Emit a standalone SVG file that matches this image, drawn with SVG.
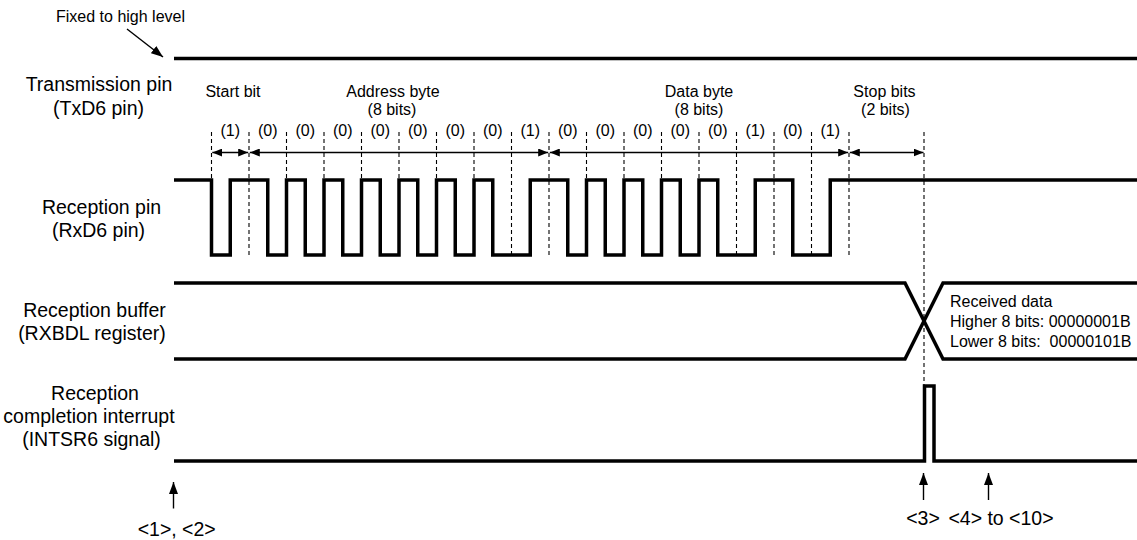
<svg xmlns="http://www.w3.org/2000/svg" width="1137" height="540" viewBox="0 0 1137 540">
<style>
  text { font-family: "Liberation Sans", Arial, Helvetica, sans-serif; fill: #000; }
  .lbl { font-size: 19.5px; text-anchor: middle; }
  .sm { font-size: 16px; text-anchor: middle; }
  .smL { font-size: 16px; text-anchor: start; white-space: pre; }
  .sig { fill: none; stroke: #000; stroke-width: 3.5; stroke-linejoin: miter; stroke-linecap: butt; }
  .dash { fill: none; stroke: #000; stroke-width: 1.1; stroke-dasharray: 4 3; }
  .arr { fill: none; stroke: #000; stroke-width: 1.4; }
</style>
<defs>
  <marker id="ah" viewBox="0 0 10 8" refX="10" refY="4" markerWidth="10" markerHeight="8" markerUnits="userSpaceOnUse" orient="auto-start-reverse">
    <path d="M0,0 L10,4 L0,8 Z" fill="#000"/>
  </marker>
  <marker id="ahBig" viewBox="0 0 12 9" refX="12" refY="4.5" markerWidth="12" markerHeight="9" markerUnits="userSpaceOnUse" orient="auto">
    <path d="M0,0 L12,4.5 L0,9 Z" fill="#000"/>
  </marker>
</defs>

<g id="note-fixed">
  <text class="sm" x="120.5" y="21.7">Fixed to high level</text>
</g>

<g id="txd">
  <text class="lbl" x="99" y="90.7">Transmission pin</text>
  <text class="lbl" x="98.5" y="114.5">(TxD6 pin)</text>
  <path class="sig" d="M174,58.5 H1137"/>
</g>

<g id="frame-labels">
  <text class="sm" x="233" y="96.5">Start bit</text>
  <text class="sm" x="393" y="96.5">Address byte</text>
  <text class="sm" x="392" y="114.5">(8 bits)</text>
  <text class="sm" x="699" y="96.5">Data byte</text>
  <text class="sm" x="699" y="114.5">(8 bits)</text>
  <text class="sm" x="884.5" y="96.5">Stop bits</text>
  <text class="sm" x="885.5" y="114.5">(2 bits)</text>
</g>

<g id="bit-labels">
  <text class="sm" x="230.25" y="136">(1)</text>
  <text class="sm" x="267.75" y="136">(0)</text>
  <text class="sm" x="305.25" y="136">(0)</text>
  <text class="sm" x="342.75" y="136">(0)</text>
  <text class="sm" x="380.25" y="136">(0)</text>
  <text class="sm" x="417.75" y="136">(0)</text>
  <text class="sm" x="455.25" y="136">(0)</text>
  <text class="sm" x="492.75" y="136">(0)</text>
  <text class="sm" x="530.25" y="136">(1)</text>
  <text class="sm" x="567.75" y="136">(0)</text>
  <text class="sm" x="605.25" y="136">(0)</text>
  <text class="sm" x="642.75" y="136">(0)</text>
  <text class="sm" x="680.25" y="136">(0)</text>
  <text class="sm" x="717.75" y="136">(0)</text>
  <text class="sm" x="755.25" y="136">(1)</text>
  <text class="sm" x="792.75" y="136">(0)</text>
  <text class="sm" x="830.25" y="136">(1)</text>
</g>

<g id="bit-boundaries">
  <path class="dash" d="M211.5,132 V256 M249,132 V256 M286.5,132 V256 M324,132 V256 M361.5,132 V256 M399,132 V256 M436.5,132 V256 M474,132 V256 M511.5,132 V256 M549,132 V256 M586.5,132 V256 M624,132 V256 M661.5,132 V256 M699,132 V256 M736.5,132 V256 M774,132 V256 M811.5,132 V256 M849,132 V256"/>
  <path class="dash" d="M924,132 V386"/>
</g>

<g id="rxd">
  <text class="lbl" x="101.5" y="214">Reception pin</text>
  <text class="lbl" x="98.5" y="237.3">(RxD6 pin)</text>
  <path class="sig" d="M174,180 H211.5 V255 H230.25 V180 H267.75 V255 H286.5 V180 H305.25 V255 H324 V180 H342.75 V255 H361.5 V180 H380.25 V255 H399 V180 H417.75 V255 H436.5 V180 H455.25 V255 H474 V180 H492.75 V255 H530.25 V180 H567.75 V255 H586.5 V180 H605.25 V255 H624 V180 H642.75 V255 H661.5 V180 H680.25 V255 H699 V180 H717.75 V255 H755.25 V180 H792.75 V255 H830.25 V180 H1137"/>
</g>

<g id="rxbdl">
  <text class="lbl" x="94.5" y="316.7">Reception buffer</text>
  <text class="lbl" x="92" y="339.5">(RXBDL register)</text>
  <path class="sig" d="M174,283 H905 L943,359 H1137"/>
  <path class="sig" d="M174,359 H905 L943,283 H1137"/>
  <text class="smL" x="950" y="306.7">Received data</text>
  <text class="smL" x="950" y="327.3">Higher 8 bits: 00000001B</text>
  <text class="smL" x="950" y="347.3">Lower 8 bits:  00000101B</text>
</g>

<g id="intsr6">
  <text class="lbl" x="95" y="400">Reception</text>
  <text class="lbl" x="89" y="423">completion interrupt</text>
  <text class="lbl" x="91.5" y="445.5">(INTSR6 signal)</text>
  <path class="sig" d="M174,461 H924.5 V386 H934 V461 H1137"/>
</g>

<g id="timing-points">
  <text class="lbl" x="176.7" y="535.5">&lt;1&gt;, &lt;2&gt;</text>
  <text class="lbl" x="923" y="524.5">&lt;3&gt;</text>
  <text class="lbl" x="1001" y="524.5">&lt;4&gt; to &lt;10&gt;</text>
</g>

<g id="connectors">
  <line class="arr" x1="127" y1="29" x2="163" y2="57" marker-end="url(#ahBig)"/>
  <line class="arr" x1="212.3" y1="152.5" x2="248.2" y2="152.5" marker-start="url(#ah)" marker-end="url(#ah)"/>
  <line class="arr" x1="249.8" y1="152.5" x2="548.2" y2="152.5" marker-start="url(#ah)" marker-end="url(#ah)"/>
  <line class="arr" x1="549.8" y1="152.5" x2="848.2" y2="152.5" marker-start="url(#ah)" marker-end="url(#ah)"/>
  <line class="arr" x1="849.8" y1="152.5" x2="923.5" y2="152.5" marker-start="url(#ah)" marker-end="url(#ah)"/>
  <line class="arr" x1="173.5" y1="508.5" x2="173.5" y2="482" marker-end="url(#ahBig)"/>
  <line class="arr" x1="923.5" y1="500" x2="923.5" y2="473" marker-end="url(#ahBig)"/>
  <line class="arr" x1="988.5" y1="500" x2="988.5" y2="473" marker-end="url(#ahBig)"/>
</g>
</svg>
